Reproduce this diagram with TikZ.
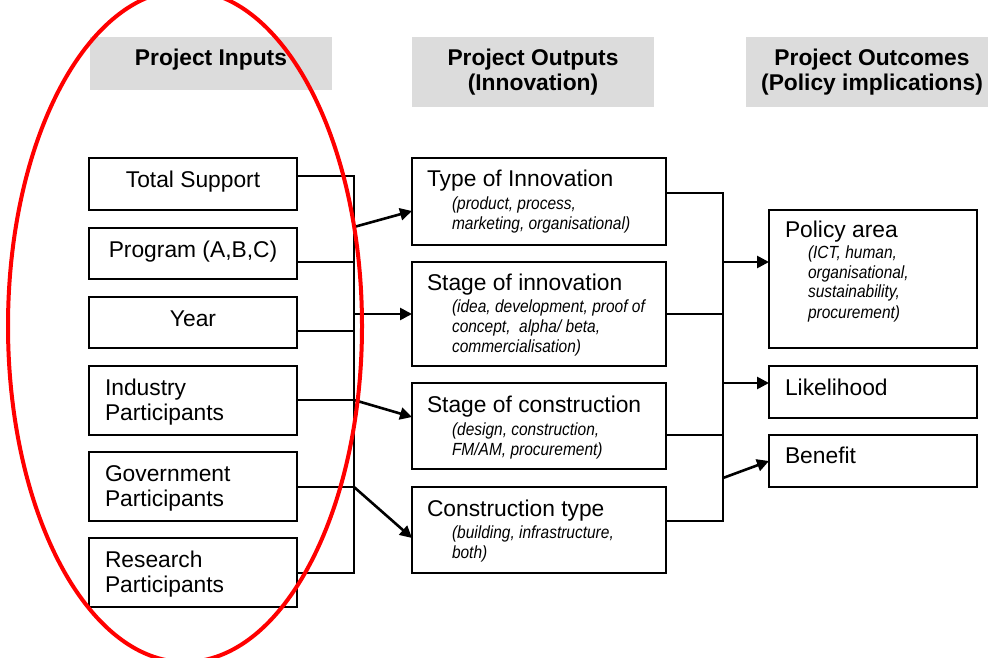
\documentclass[tikz,border=0pt]{standalone}
\usepackage{fontspec}
\setmainfont{Liberation Sans}
\newfontfamily\narrowfont[FakeStretch=0.88]{Liberation Sans}
\usetikzlibrary{arrows.meta,positioning}
\definecolor{headGray}{HTML}{DCDCDC}
\definecolor{ringRed}{HTML}{FF0000}
\newcommand{\mainf}{\fontsize{11.4}{12.5}\selectfont}
\newcommand{\subf}{\narrowfont\itshape\fontsize{8.8}{10}\selectfont}
\tikzset{
	box/.style={draw, line width=0.65pt, inner sep=0, outer sep=0},
	headbox/.style={fill=headGray, inner sep=0, outer sep=0, minimum width=121pt},
	txt/.style={inner sep=0, outer sep=0, font=\mainf},
	headtxt/.style={inner sep=0, outer sep=0, font=\mainf\bfseries},
	sub/.style={inner sep=0, outer sep=0, font=\subf},
	wire/.style={line width=0.65pt},
	feed/.style={line width=1.3pt, -{Triangle[length=6pt,width=6pt]}},
	inbox/.style={box, minimum width=104pt},
	outbox/.style={box, minimum width=127pt},
	resbox/.style={box, minimum width=104pt}
}
\begin{document}
\begin{tikzpicture}[x=0.5pt, y=-0.5pt]
	\useasboundingbox (0,0) rectangle (988,657);
	\clip (0,0) rectangle (988,657);
	% column headers
	\node[headbox, minimum height=26.5pt] (hin) at (211,63.5) {};
	\node[headbox, minimum height=35pt] (hout) at (533,72) {};
	\node[headbox, minimum height=35pt] (hres) at (867,72) {};
	\node[headtxt, anchor=base] (hinT) at (211,66) {Project Inputs};
	\node[headtxt, anchor=base] (houtT) at (533,66) {\begin{tabular}[t]{@{}c@{}} Project Outputs \\ (Innovation) \end{tabular}};
	\node[headtxt, anchor=base] (hresT) at (872,66) {\begin{tabular}[t]{@{}c@{}} Project Outcomes \\ (Policy implications) \end{tabular}};
	% inputs
	\node[inbox, minimum height=26pt] (tot) at (193,184) {};
	\node[inbox, minimum height=25.5pt] (prog) at (193,253.5) {};
	\node[inbox, minimum height=25.5pt] (year) at (193,322.5) {};
	\node[inbox, minimum height=34.5pt] (ind) at (193,400.5) {};
	\node[inbox, minimum height=34.5pt] (gov) at (193,486.5) {};
	\node[inbox, minimum height=34.5pt] (res) at (193,572.5) {};
	\node[txt, anchor=base] (totT) at (193,188) {Total Support};
	\node[txt, anchor=base] (progT) at (193,257) {Program (A,B,C)};
	\node[txt, anchor=base] (yearT) at (193,326) {Year};
	\node[txt, anchor=base west] (indT) at (105,395) {\begin{tabular}[t]{@{}l@{}} Industry \\ Participants \end{tabular}};
	\node[txt, anchor=base west] (govT) at (105,481) {\begin{tabular}[t]{@{}l@{}} Government \\ Participants \end{tabular}};
	\node[txt, anchor=base west] (resT) at (105,567) {\begin{tabular}[t]{@{}l@{}} Research \\ Participants \end{tabular}};
	% outputs
	\node[outbox, minimum height=43.5pt] (type) at (539,201.5) {};
	\node[outbox, minimum height=52pt] (stinn) at (539,314) {};
	\node[outbox, minimum height=43pt] (stcon) at (539,426) {};
	\node[outbox, minimum height=43pt] (ctype) at (539,530) {};
	\node[txt, anchor=base west] (typeT) at (427,187) {Type of Innovation};
	\node[sub, anchor=base west] (typeS) at (452,210) {\begin{tabular}[t]{@{}l@{}} (product, process, \\ marketing, organisational) \end{tabular}};
	\node[txt, anchor=base west] (stinnT) at (427,290) {Stage of innovation};
	\node[sub, anchor=base west] (stinnS) at (452,312) {\begin{tabular}[t]{@{}l@{}} (idea, development, proof of \\ concept,~ alpha/ beta, \\ commercialisation) \end{tabular}};
	\node[txt, anchor=base west] (stconT) at (427,412) {Stage of construction};
	\node[sub, anchor=base west] (stconS) at (452,435) {\begin{tabular}[t]{@{}l@{}} (design, construction, \\ FM/AM, procurement) \end{tabular}};
	\node[txt, anchor=base west] (ctypeT) at (427,516) {Construction type};
	\node[sub, anchor=base west] (ctypeS) at (452,538) {\begin{tabular}[t]{@{}l@{}} (building, infrastructure, \\ both) \end{tabular}};
	% outcomes
	\node[resbox, minimum height=69pt] (pol) at (873,279) {};
	\node[resbox, minimum height=26pt] (lik) at (873,392) {};
	\node[resbox, minimum height=26pt] (ben) at (873,461) {};
	\node[txt, anchor=base west] (polT) at (785,238) {Policy area};
	\node[sub, anchor=base west] (polS) at (808,258) {\begin{tabular}[t]{@{}l@{}} (ICT, human, \\ organisational, \\ sustainability, \\ procurement) \end{tabular}};
	\node[txt, anchor=base west] (likT) at (785,395) {Likelihood};
	\node[txt, anchor=base west] (benT) at (785,463) {Benefit};
	% bus lines
	\coordinate (b1) at (354,176);
	\coordinate (b2) at (354,262);
	\coordinate (b3) at (354,331);
	\coordinate (b4) at (354,400);
	\coordinate (b5) at (354,487);
	\coordinate (b6) at (354,573);
	\draw[wire] (tot.east |- b1) -- (b1) -- (b6) -- (res.east |- b6);
	\draw[wire] (prog.east |- b2) -- (b2);
	\draw[wire] (year.east |- b3) -- (b3);
	\draw[wire] (ind.east |- b4) -- (b4);
	\draw[wire] (gov.east |- b5) -- (b5);
	\coordinate (a1) at (354,227);
	\coordinate (a2) at (353,314);
	\draw[feed] (a1) -- ([yshift=-4.75pt]type.west);
	\draw[feed] (a2) -- (stinn.west);
	\draw[feed] (b4) -- ([yshift=4.5pt]stcon.west);
	\draw[feed] (b5) -- ([yshift=-4pt]ctype.west);
	\coordinate (r1) at (723,193);
	\coordinate (r2) at (723,314);
	\coordinate (r3) at (723,435);
	\coordinate (r4) at (723,521);
	\draw[wire] (type.east |- r1) -- (r1) -- (r4) -- (ctype.east |- r4);
	\draw[wire] (stinn.east |- r2) -- (r2);
	\draw[wire] (stcon.east |- r3) -- (r3);
	\coordinate (c1) at (723,262);
	\coordinate (c2) at (723,383);
	\coordinate (c3) at (723,478);
	\draw[feed] (c1) -- ([yshift=8.5pt]pol.west);
	\draw[feed] (c2) -- ([yshift=4.5pt]lik.west);
	\draw[feed] (c3) -- (ben.west);
	% ring round the inputs
	\draw[ringRed, line width=2pt] (185,326) ellipse [x radius=88.5pt, y radius=168pt];
\end{tikzpicture}
\end{document}
